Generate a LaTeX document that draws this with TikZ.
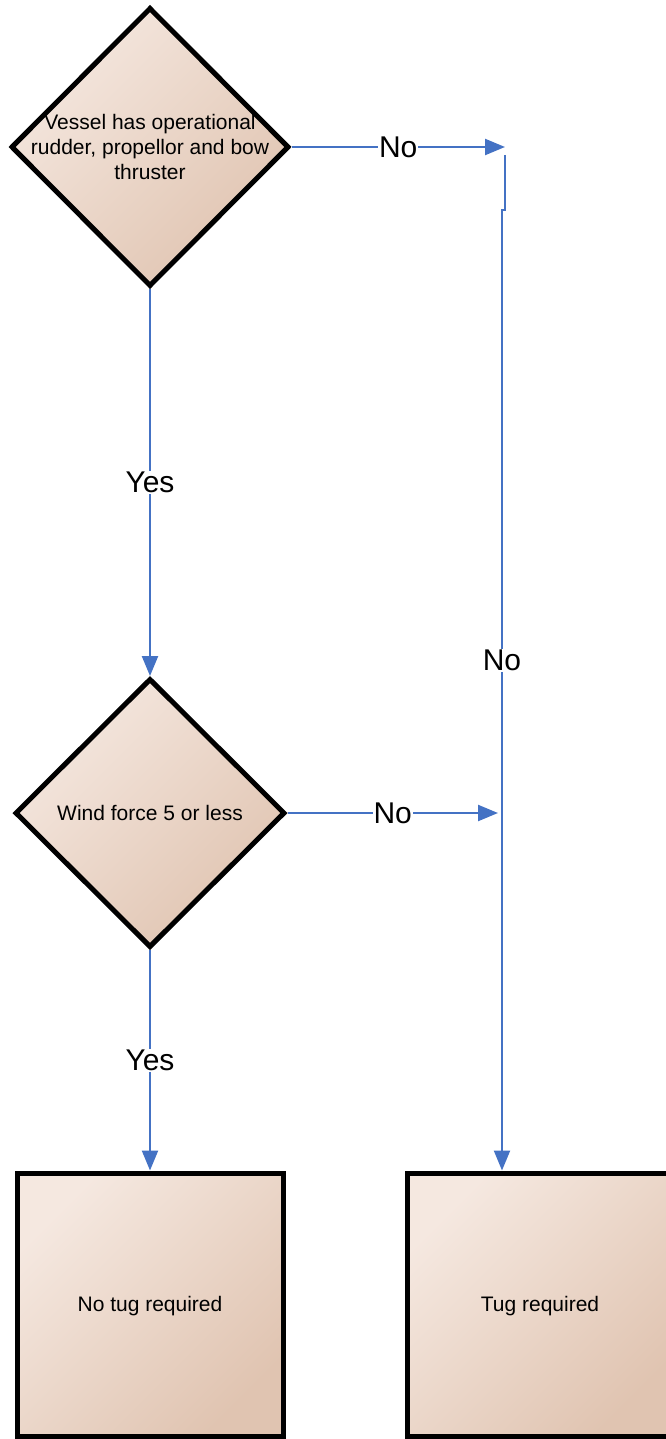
\documentclass[tikz,border=0pt]{standalone}
\usepackage{fontspec}
\setmainfont{Liberation Sans}
\usetikzlibrary{shapes.geometric,arrows.meta}
\definecolor{flowblue}{RGB}{68,114,196}
\definecolor{fillA}{RGB}{245,232,224}
\definecolor{fillB}{RGB}{224,196,177}
\tikzset{
  shapefill/.style={line width=5pt, draw=black, top color=fillA, bottom color=fillB, shading angle=45},
  decision/.style={diamond, shapefill, inner sep=0pt},
  outcome/.style={rectangle, shapefill, inner sep=0pt, minimum width=266pt, minimum height=263pt},
  boxtext/.style={font=\fontsize{21}{25}\selectfont, align=center, inner sep=0pt},
  flow/.style={draw=flowblue, line width=2.3pt, -{Triangle[length=20pt,width=16pt]}},
  flowlabel/.style={fill=white, font=\fontsize{30}{36}\selectfont, inner sep=1pt}
}
\begin{document}
\begin{tikzpicture}[x=1pt,y=-1pt]
\useasboundingbox (0,0) rectangle (666,1439);

% decisions
\node[decision, minimum width=278pt, minimum height=279pt] (q1) at (150,147) {};
\node[boxtext] (q1text) at (q1.center) {Vessel has operational\\rudder, propellor and bow\\thruster};
\node[decision, minimum width=270pt, minimum height=269pt] (q2) at (150,813) {};
\node[boxtext] (q2text) at (q2.center) {Wind force 5 or less};

% outcomes
\node[outcome] (notug) at (150,1304.5) {};
\node[boxtext] (notugtext) at (150,1306) {No tug required};
\node[outcome] (tug) at (540,1304.5) {};
\node[boxtext] (tugtext) at (540,1306) {Tug required};

% junction points of the "No" branch
\coordinate (j1) at (505,147);
\coordinate (j2) at (505,155);
\coordinate (j2b) at (505,210);
\coordinate (j3) at (502,210);
\coordinate (j4) at (498,813);

% connectors
\draw[flow] (q1.east) -- node[flowlabel] {No} (j1);
\draw[flow] (j2) -- (j2b) -- (j3) -- node[flowlabel, pos=0.469] {No} (j3 |- tug.north);
\draw[flow] (q2.east) -- node[flowlabel] {No} (j4);
\draw[flow] (q1.south) -- node[flowlabel] {Yes} (q2.north);
\draw[flow] (q2.south) -- node[flowlabel] {Yes} (notug.north);
\end{tikzpicture}
\end{document}
